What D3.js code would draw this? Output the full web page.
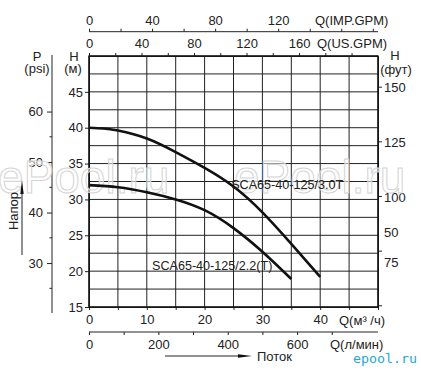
<!DOCTYPE html>
<html>
<head>
<meta charset="utf-8">
<script src="https://cdn.jsdelivr.net/npm/d3@7"></script>
<style>
  body { margin: 0; background: #fff; }
  svg { display: block; font-family: "Liberation Sans", Arial, sans-serif; }
  .ax text { fill: #222; font-size: 13px; }
  .ax line, .ax path { stroke: #222; }
</style>
</head>
<body>
<div id="chart"></div>
<script>
// flow (m3/h) and head (m)
var flow30 = [0, 2.5, 5, 10, 15, 20, 25, 30, 35, 40];
var head30 = [40, 39.9, 39.6, 38.5, 36.6, 34.4, 31.8, 28.2, 23.8, 19.2];
var flow22 = [0, 5, 10, 15, 20, 25, 30, 35];
var head22 = [32.0, 31.7, 31.0, 30.0, 28.5, 26.0, 22.7, 18.9];
var names = ["SCA65-40-125/3.0T", "SCA65-40-125/2.2(T)"];

// axis ticks
var m3hTicks = [0, 5, 10, 15, 20, 25, 30, 35, 40, 45, 50];
var m3hLabels = [0, 10, 20, 30, 40];
var lminTicks = [0, 100, 200, 300, 400, 500, 600, 700];
var lminLabels = [0, 200, 400, 600];
var usTicks = [0, 20, 40, 60, 80, 100, 120, 140, 160, 180, 200];
var usLabels = [0, 40, 80, 120, 160];
var impTicks = [0, 20, 40, 60, 80, 100, 120, 140, 160, 180];
var impLabels = [0, 40, 80, 120];
var hTicks = [15, 20, 25, 30, 35, 40, 45];
var psiMajor = [30, 40, 50, 60];
var psiMinor = [25, 35, 45, 55];
var ftTicks = [50, 75, 100, 125, 150];
var ftLabelText = ["150", "125", "100", "50", "75"];
var ftLabelAt = [150, 125, 100, 84, 70]; // printed out of place in the original

var W = 421, H = 372;
var x0 = 89, x1 = 378, y0 = 56, y1 = 307;

var svg = d3.select("#chart").append("svg").attr("width", W).attr("height", H);

var x = d3.scaleLinear().domain([0, 50]).range([x0, x1]);
var y = d3.scaleLinear().domain([15, 50]).range([y1, y0]);
var xl = d3.scaleLinear().domain([0, 50 * 1000 / 60]).range([x0, x1]);
var xus = d3.scaleLinear().domain([0, 50 * 4.4029]).range([x0, x1]);
var ximp = d3.scaleLinear().domain([0, 50 * 3.6662]).range([x0, x1]);
var yft = d3.scaleLinear().domain([15 * 3.2808, 50 * 3.2808]).range([y1, y0]);
var ypsi = d3.scaleLinear().domain([15 * 1.42, 50 * 1.42]).range([y1, y0]);

// grid
var grid = svg.append("g").attr("stroke", "#222").attr("stroke-width", 1);
grid.selectAll(".v").data(m3hTicks).enter().append("line")
  .attr("x1", function(d) { return x(d); }).attr("x2", function(d) { return x(d); })
  .attr("y1", y0).attr("y2", y1);
grid.selectAll(".h").data(d3.range(15, 50.1, 2.5)).enter().append("line")
  .attr("x1", x0).attr("x2", x1)
  .attr("y1", function(d) { return y(d); }).attr("y2", function(d) { return y(d); });

// bottom axes
var fmt = function(list) { return function(d) { return list.indexOf(d) >= 0 ? d : ""; }; };
var axB = svg.append("g").attr("class", "ax").attr("transform", "translate(0," + y1 + ")")
  .call(d3.axisBottom(x).tickValues(m3hTicks).tickFormat(fmt(m3hLabels)).tickSize(3).tickPadding(5).tickSizeOuter(0));
axB.append("text").attr("x", 339).attr("y", 17.5).attr("text-anchor", "start").text("Q(м³ /ч)");

var axL = svg.append("g").attr("class", "ax").attr("transform", "translate(0,332)")
  .call(d3.axisBottom(xl).tickValues(lminTicks).tickFormat(fmt(lminLabels)).tickSize(3).tickPadding(4.5).tickSizeOuter(0));
axL.select(".domain").attr("d", "M" + x0 + ",0H" + x1);
axL.append("text").attr("x", 330).attr("y", 16.5).attr("text-anchor", "start").text("Q(л/мин)");

// top axes
var axUS = svg.append("g").attr("class", "ax").attr("transform", "translate(0," + y0 + ")")
  .call(d3.axisTop(xus).tickValues(usTicks).tickFormat(fmt(usLabels)).tickSize(3).tickPadding(5.5).tickSizeOuter(0));
axUS.append("text").attr("x", 317).attr("y", -8.5).attr("text-anchor", "start").text("Q(US.GPM)");

var axIMP = svg.append("g").attr("class", "ax").attr("transform", "translate(0,31.7)")
  .call(d3.axisTop(ximp).tickValues(impTicks).tickFormat(fmt(impLabels)).tickSize(3).tickPadding(4).tickSizeOuter(0));
axIMP.select(".domain").attr("d", "M" + x0 + ",0H" + x1);
axIMP.append("text").attr("x", 315).attr("y", -7).attr("text-anchor", "start").text("Q(IMP.GPM)");

// left H (m)
var axH = svg.append("g").attr("class", "ax").attr("transform", "translate(" + x0 + ",0)")
  .call(d3.axisLeft(y).tickValues(hTicks).tickSize(4).tickPadding(2).tickSizeOuter(0));
axH.append("text").attr("x", -15).attr("y", y0 + 5).attr("text-anchor", "middle").text("H");
axH.append("text").attr("x", -16).attr("y", y0 + 17).attr("text-anchor", "middle").text("(м)");

// left psi
var axP = svg.append("g").attr("class", "ax").attr("transform", "translate(52,0)")
  .call(d3.axisLeft(ypsi).tickValues(psiMajor).tickSize(5).tickPadding(4).tickSizeOuter(0));
axP.select(".domain").attr("d", "M0," + (y0 - 1) + "V" + (y1 + 6)).attr("stroke", "#555");
axP.selectAll(".minor").data(psiMinor).enter().append("line").attr("class", "minor")
  .attr("x1", -2.5).attr("x2", 0).attr("stroke", "#555")
  .attr("y1", function(d) { return ypsi(d); }).attr("y2", function(d) { return ypsi(d); });
axP.append("text").attr("x", -15).attr("y", y0 + 5).attr("text-anchor", "middle").text("P");
axP.append("text").attr("x", -15).attr("y", y0 + 17).attr("text-anchor", "middle").text("(psi)");

// right ft
var axF = svg.append("g").attr("class", "ax").attr("transform", "translate(" + x1 + ",0)")
  .call(d3.axisRight(yft).tickValues(ftTicks).tickFormat("").tickSize(4).tickSizeOuter(0));
axF.selectAll(".flab").data(ftLabelText).enter().append("text").attr("class", "flab")
  .attr("x", 6).attr("y", function(d, i) { return yft(ftLabelAt[i]) + 1.5; })
  .attr("dy", "0.32em").attr("text-anchor", "start").text(function(d) { return d; });
axF.append("text").attr("x", 17).attr("y", y0 + 4).attr("text-anchor", "middle").text("H");
axF.append("text").attr("x", 18).attr("y", y0 + 18).attr("text-anchor", "middle").text("(фут)");

// frame
svg.append("rect").attr("x", x0).attr("y", y0).attr("width", x1 - x0).attr("height", y1 - y0)
  .attr("fill", "none").attr("stroke", "#111").attr("stroke-width", 1.3);

// watermarks (under the curves)
svg.selectAll(".wm").data([-2, 234]).enter().append("text")
  .attr("x", function(d) { return d; }).attr("y", 193)
  .attr("font-size", 46).attr("fill", "#fff").attr("fill-opacity", 0.55)
  .attr("stroke", "#d4d4d4").attr("stroke-width", 1).text("ePool.ru");

// curves
var line = d3.line().curve(d3.curveNatural)
  .x(function(d) { return x(d[0]); }).y(function(d) { return y(d[1]); });
var curves = [d3.zip(flow30, head30), d3.zip(flow22, head22)];
svg.selectAll(".curve").data(curves).enter().append("path")
  .attr("fill", "none").attr("stroke", "#111").attr("stroke-width", 2.6)
  .attr("d", line);

svg.append("text").attr("x", x(24.6)).attr("y", y(31.4))
  .attr("font-size", 12.6).attr("fill", "#222").text(names[0]);
svg.append("text").attr("x", x(10.9)).attr("y", y(20.1))
  .attr("font-size", 12.6).attr("fill", "#222").text(names[1]);

// Напор arrow
svg.append("text").attr("transform", "translate(17.5,211) rotate(-90)")
  .attr("text-anchor", "middle").attr("font-size", 13).attr("fill", "#222").text("Напор");
svg.append("line").attr("x1", 22).attr("x2", 22).attr("y1", 255).attr("y2", 192)
  .attr("stroke", "#222").attr("stroke-width", 1);
svg.append("path").attr("d", "M20.3,194L22,180L23.7,194Z").attr("fill", "#111");

// Поток arrow
svg.append("line").attr("x1", 165).attr("x2", 240).attr("y1", 356).attr("y2", 356)
  .attr("stroke", "#222").attr("stroke-width", 1);
svg.append("path").attr("d", "M238,354.3L252,356L238,357.7Z").attr("fill", "#111");
svg.append("text").attr("x", 257).attr("y", 360.5).attr("font-size", 13).attr("fill", "#222").text("Поток");

svg.append("text").attr("x", 353).attr("y", 363).attr("font-size", 12)
  .attr("font-family", "DejaVu Sans Mono")
  .attr("fill", "#22a8dc").attr("textLength", 64).attr("lengthAdjust", "spacingAndGlyphs")
  .text("epool.ru");
</script>
</body>
</html>
